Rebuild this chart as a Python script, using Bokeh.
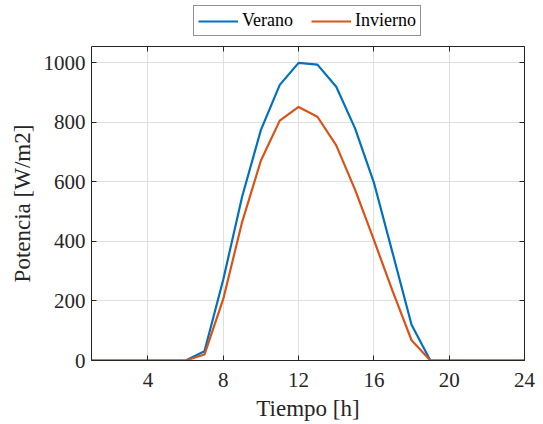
from bokeh.plotting import figure
from bokeh.models import Range1d, FixedTicker, LinearAxis, Legend, LegendItem
from bokeh.layouts import column
from bokeh.embed import file_html
from bokeh.resources import INLINE

hours = list(range(1, 25))
verano = [0, 0, 0, 0, 0, 0, 31, 272, 550, 775, 926, 1000, 994, 920, 780, 598, 360, 120, 0, 0, 0, 0, 0, 0]
invierno = [0, 0, 0, 0, 0, 0, 20, 207, 465, 672, 806, 852, 819, 723, 574, 405, 232, 68, 0, 0, 0, 0, 0, 0]
x_ticks = [4, 8, 12, 16, 20, 24]
y_ticks = [0, 200, 400, 600, 800, 1000]
series_names = ["Verano", "Invierno"]

FONT = "Liberation Serif"
AX = "#262626"
C1, C2 = "#0072BD", "#D95319"

# ---- legend strip (top) ----
leg = figure(width=543, height=46, output_backend="svg", toolbar_location=None,
             x_range=Range1d(1, 24), y_range=Range1d(5000, 6000),
             min_border=0, outline_line_color=None)
leg.axis.visible = False
leg.grid.visible = False
lr1 = leg.line(hours, verano, line_color=C1, line_width=2.2)
lr2 = leg.line(hours, invierno, line_color=C2, line_width=2.2)
legend = Legend(items=[LegendItem(label=series_names[0], renderers=[lr1]),
                       LegendItem(label=series_names[1], renderers=[lr2])],
                orientation="horizontal", location=(102, 10),
                label_text_font=FONT, label_text_font_size="18px", label_text_color="#000000",
                glyph_width=40, glyph_height=18, label_standoff=4, spacing=18,
                padding=4, margin=0, border_line_color=AX, border_line_width=1,
                background_fill_alpha=1)
leg.add_layout(legend, "center")

# ---- main plot ----
p = figure(width=543, height=378, output_backend="svg", toolbar_location=None,
           x_range=Range1d(1, 24), y_range=Range1d(0, 1055),
           min_border_left=91, min_border_right=19, min_border_top=0, min_border_bottom=64,
           x_axis_label="Tiempo [h]", y_axis_label="Potencia [W/m2]")

p.line(hours, verano, line_color=C1, line_width=2.2)
p.line(hours, invierno, line_color=C2, line_width=2.2)

p.xaxis.ticker = FixedTicker(ticks=x_ticks)
p.yaxis.ticker = FixedTicker(ticks=y_ticks)
for ax in [p.xaxis[0], p.yaxis[0]]:
    ax.major_label_text_font = FONT
    ax.major_label_text_font_size = "21px"
    ax.major_label_text_color = AX
    ax.axis_label_text_font = FONT
    ax.axis_label_text_font_size = "23px"
    ax.axis_label_text_font_style = "normal"
    ax.axis_label_text_color = AX
    ax.axis_line_color = AX
    ax.major_tick_line_color = AX
    ax.major_tick_in = 5
    ax.major_tick_out = 0
    ax.minor_tick_line_color = None
p.xaxis.major_label_standoff = 12
p.yaxis.major_label_standoff = 6
p.xaxis.axis_label_standoff = 6
p.yaxis.axis_label_standoff = 6

top = LinearAxis(ticker=FixedTicker(ticks=x_ticks), major_label_text_font_size="0px",
                 major_label_text_color=None,
                 major_tick_in=5, major_tick_out=0, minor_tick_line_color=None,
                 axis_line_color=AX, major_tick_line_color=AX, major_label_standoff=0)
right = LinearAxis(ticker=FixedTicker(ticks=y_ticks), major_label_text_font_size="0px",
                   major_label_text_color=None,
                   major_tick_in=5, major_tick_out=0, minor_tick_line_color=None,
                   axis_line_color=AX, major_tick_line_color=AX, major_label_standoff=0)
p.add_layout(top, "above")
p.add_layout(right, "right")

p.xgrid.ticker = FixedTicker(ticks=x_ticks)
p.ygrid.ticker = FixedTicker(ticks=y_ticks)
p.grid.grid_line_color = "#dfdfdf"
p.grid.grid_line_width = 1
p.outline_line_color = None
p.background_fill_color = "white"
p.border_fill_color = "white"

layout = column(leg, p, spacing=0)
open("out.html", "w").write(file_html(layout, INLINE))
